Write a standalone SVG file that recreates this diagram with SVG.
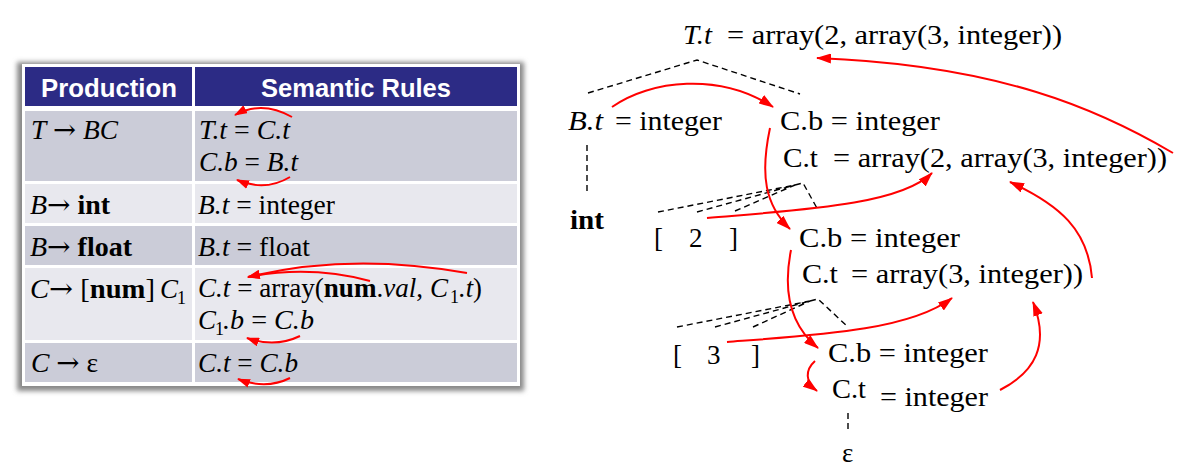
<svg xmlns="http://www.w3.org/2000/svg" width="1195" height="467" viewBox="0 0 1195 467">
<style>
.s{font-family:"Liberation Serif","Times New Roman",serif;font-size:27px;fill:#000}
.i{font-style:italic}
.b{font-weight:bold}
.ar{font-family:"DejaVu Serif",serif;font-style:normal;font-weight:normal}
.sub{font-size:18px}
.h{font-family:"Liberation Sans",Arial,sans-serif;font-weight:bold;font-size:26px;fill:#fff}
.red{fill:none;stroke:#f00;stroke-width:2}
.dash{fill:none;stroke:#000;stroke-width:1.4;stroke-dasharray:6,4}
.dk{fill:#cbccd8}
.lt{fill:#e8e8ee}
</style>
<defs>
<marker id="ah" markerUnits="userSpaceOnUse" markerWidth="15" markerHeight="10" refX="14" refY="5" orient="auto"><path d="M0,0 L15,5 L0,10 z" fill="#f00"/></marker>
<marker id="as" markerUnits="userSpaceOnUse" markerWidth="13" markerHeight="9" refX="12" refY="4.5" orient="auto"><path d="M0,0 L13,4.5 L0,9 z" fill="#f00"/></marker>
<filter id="sh" x="-5%" y="-5%" width="110%" height="110%"><feGaussianBlur stdDeviation="2.5"/></filter>
</defs>
<rect width="1195" height="467" fill="#fff"/>

<g id="table">
<rect x="17" y="62" width="507" height="329" fill="#888" filter="url(#sh)"/>
<rect x="22" y="64" width="498" height="322" fill="#fff"/>
<rect x="25" y="67" width="167" height="39" fill="#2c2b85"/>
<rect x="195" y="67" width="322" height="39" fill="#2c2b85"/>
<rect x="25" y="111" width="167" height="70" class="dk"/>
<rect x="195" y="111" width="322" height="70" class="dk"/>
<rect x="25" y="184" width="167" height="39" class="lt"/>
<rect x="195" y="184" width="322" height="39" class="lt"/>
<rect x="25" y="226" width="167" height="39" class="dk"/>
<rect x="195" y="226" width="322" height="39" class="dk"/>
<rect x="25" y="268" width="167" height="72" class="lt"/>
<rect x="195" y="268" width="322" height="72" class="lt"/>
<rect x="25" y="343" width="167" height="39" class="dk"/>
<rect x="195" y="343" width="322" height="39" class="dk"/>
<text class="h" x="41" y="97" textLength="136" lengthAdjust="spacingAndGlyphs">Production</text>
<text class="h" x="261" y="97" textLength="190" lengthAdjust="spacingAndGlyphs">Semantic Rules</text>

<text class="s" x="31" y="139" textLength="87" lengthAdjust="spacingAndGlyphs"><tspan class="i">T</tspan> <tspan class="ar">→</tspan> <tspan class="i">BC</tspan></text>
<text class="s i" x="199" y="139" textLength="91" lengthAdjust="spacingAndGlyphs">T.t <tspan font-style="normal">=</tspan> C.t</text>
<text class="s i" x="199" y="171" textLength="99" lengthAdjust="spacingAndGlyphs">C.b <tspan font-style="normal">=</tspan> B.t</text>

<text class="s" x="30" y="214" textLength="80" lengthAdjust="spacingAndGlyphs"><tspan class="i">B</tspan><tspan class="ar">→</tspan> <tspan class="b">int</tspan></text>
<text class="s" x="198" y="214" textLength="137" lengthAdjust="spacingAndGlyphs"><tspan class="i">B.t</tspan> = integer</text>

<text class="s" x="30" y="256" textLength="102" lengthAdjust="spacingAndGlyphs"><tspan class="i">B</tspan><tspan class="ar">→</tspan> <tspan class="b">float</tspan></text>
<text class="s" x="198" y="256" textLength="112" lengthAdjust="spacingAndGlyphs"><tspan class="i">B.t</tspan> = float</text>

<text class="s" x="30" y="298" textLength="125" lengthAdjust="spacingAndGlyphs"><tspan class="i">C</tspan><tspan class="ar">→</tspan> [<tspan class="b">num</tspan>]</text>
<text class="s i" x="160" y="298">C</text>
<text class="s sub" x="177" y="304">1</text>
<text class="s" x="198" y="297" textLength="250" lengthAdjust="spacingAndGlyphs"><tspan class="i">C.t</tspan> = array(<tspan class="b">num</tspan>.<tspan class="i">val</tspan>, <tspan class="i">C</tspan></text>
<text class="s sub" x="450" y="303">1</text>
<text class="s i" x="459" y="297" textLength="23" lengthAdjust="spacingAndGlyphs">.t<tspan font-style="normal">)</tspan></text>
<text class="s i" x="198" y="329">C</text>
<text class="s sub" x="215" y="335">1</text>
<text class="s i" x="223" y="329" textLength="91" lengthAdjust="spacingAndGlyphs">.b <tspan font-style="normal">=</tspan> C.b</text>

<text class="s" x="31" y="372" textLength="67" lengthAdjust="spacingAndGlyphs"><tspan class="i">C</tspan> <tspan class="ar">→</tspan> ε</text>
<text class="s i" x="198" y="372" textLength="100" lengthAdjust="spacingAndGlyphs">C.t <tspan font-style="normal">=</tspan> C.b</text>
</g>

<g id="table-arrows">
<path class="red" d="M292,117 Q262,100 235,115" marker-end="url(#as)"/>
<path class="red" d="M290,177 Q265,192 237,180" marker-end="url(#as)"/>
<path class="red" d="M467,273 Q350,252 248,277" marker-end="url(#as)"/>
<path class="red" d="M370,281 Q310,265 248,277" marker-end="url(#as)"/>
<path class="red" d="M300,336 Q275,348 247,338" marker-end="url(#as)"/>
<path class="red" d="M290,378 Q266,390 238,379" marker-end="url(#as)"/>
</g>

<g id="node-T">
<text class="s i" x="683" y="44" textLength="29" lengthAdjust="spacingAndGlyphs">T.t</text>
<text class="s" x="727" y="44" textLength="335" lengthAdjust="spacingAndGlyphs">= array(2, array(3, integer))</text>
</g>
<g id="node-B">
<text class="s i" x="568" y="130" textLength="35" lengthAdjust="spacingAndGlyphs">B.t</text>
<text class="s" x="615" y="130" textLength="107" lengthAdjust="spacingAndGlyphs">= integer</text>
</g>
<g id="node-int"><text class="s b" x="570" y="229" textLength="34" lengthAdjust="spacingAndGlyphs">int</text></g>
<g id="node-C1">
<text class="s" x="780" y="130" textLength="160" lengthAdjust="spacingAndGlyphs">C.b = integer</text>
<text class="s" x="783" y="167" textLength="35" lengthAdjust="spacingAndGlyphs">C.t</text>
<text class="s" x="833" y="167" textLength="334" lengthAdjust="spacingAndGlyphs">= array(2, array(3, integer))</text>
</g>
<g id="node-br2">
<text class="s" x="654" y="247">[</text>
<text class="s" x="689" y="247">2</text>
<text class="s" x="729" y="247">]</text>
</g>
<g id="node-C2">
<text class="s" x="799" y="247" textLength="161" lengthAdjust="spacingAndGlyphs">C.b = integer</text>
<text class="s" x="802" y="283" textLength="36" lengthAdjust="spacingAndGlyphs">C.t</text>
<text class="s" x="851" y="283" textLength="232" lengthAdjust="spacingAndGlyphs">= array(3, integer))</text>
</g>
<g id="node-br3">
<text class="s" x="673" y="364">[</text>
<text class="s" x="707" y="364">3</text>
<text class="s" x="751" y="364">]</text>
</g>
<g id="node-C3">
<text class="s" x="828" y="362" textLength="160" lengthAdjust="spacingAndGlyphs">C.b = integer</text>
<text class="s" x="832" y="398" textLength="34" lengthAdjust="spacingAndGlyphs">C.t</text>
<text class="s" x="880" y="406" textLength="108" lengthAdjust="spacingAndGlyphs">= integer</text>
</g>
<g id="node-eps"><text class="s" x="842" y="462">ε</text></g>

<g id="connectors">
<path class="dash" d="M588,93 L697,60 L800,94"/>
<path class="dash" d="M587,145 L587,193"/>
<path class="dash" d="M658,212 L795,185 M697,212 L795,185 M735,211 L795,185 M795,185 L803,183 L818,210"/>
<path class="dash" d="M677,327 L810,301 M715,327 L810,301 M753,327 L810,301 M810,301 L818,299 L848,327"/>
<path class="dash" d="M848,413 L848,429"/>
<path class="red" d="M612,107 C650,80 720,72 773,107" marker-end="url(#ah)"/>
<path class="red" d="M770,128 C760,175 765,205 790,229" marker-end="url(#ah)"/>
<path class="red" d="M707,218 C800,210 900,205 932,173" marker-end="url(#ah)"/>
<path class="red" d="M1092,278 C1088,230 1060,205 1010,182" marker-end="url(#ah)"/>
<path class="red" d="M1173,153 C1100,110 1000,65 817,58" marker-end="url(#ah)"/>
<path class="red" d="M791,250 C783,290 790,325 818,348" marker-end="url(#ah)"/>
<path class="red" d="M727,342 C820,335 910,330 952,298" marker-end="url(#ah)"/>
<path class="red" d="M815,361 C805,370 805,382 817,391" marker-end="url(#ah)"/>
<path class="red" d="M1000,390 C1035,372 1050,345 1033,302" marker-end="url(#ah)"/>
</g>
</svg>
